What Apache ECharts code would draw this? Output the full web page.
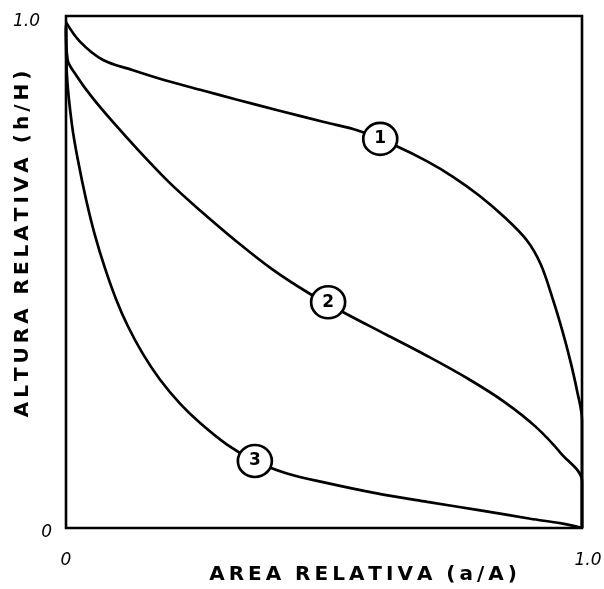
<!DOCTYPE html>
<html>
<head>
<meta charset="utf-8">
<script src="https://cdn.jsdelivr.net/npm/echarts@6/dist/echarts.min.js"></script>
<style>
  html, body { margin: 0; padding: 0; background: #fff; }
  #chart { width: 604px; height: 589px; }
</style>
</head>
<body>
<div id="chart"></div>
<script>
// hypsometric curves, values (a/A, h/H)
var curve1 = [[0, 0.988], [0.027, 0.95], [0.072, 0.914], [0.13, 0.894], [0.19, 0.875],
  [0.26, 0.856], [0.33, 0.837], [0.41, 0.816], [0.5, 0.793], [0.57, 0.775], [0.64, 0.746],
  [0.7, 0.716], [0.75, 0.686], [0.8, 0.65], [0.85, 0.607], [0.893, 0.562], [0.92, 0.515],
  [0.944, 0.445], [0.962, 0.385], [0.977, 0.328], [0.99, 0.27], [1.0, 0.21], [1.0, 0.0]];
var curve2 = [[0, 0.977], [0.003, 0.915], [0.02, 0.884], [0.05, 0.842], [0.09, 0.794],
  [0.14, 0.738], [0.2, 0.675], [0.26, 0.62], [0.33, 0.56], [0.4, 0.505], [0.47, 0.459],
  [0.54, 0.42], [0.62, 0.378], [0.7, 0.336], [0.78, 0.291], [0.85, 0.246], [0.91, 0.198],
  [0.96, 0.145], [1.0, 0.091], [1.0, 0.0]];
var curve3 = [[0, 0.982], [0.002, 0.881], [0.0116, 0.787], [0.023, 0.719], [0.039, 0.641],
  [0.056, 0.572], [0.076, 0.506], [0.097, 0.447], [0.12, 0.394], [0.149, 0.34],
  [0.182, 0.29], [0.221, 0.243], [0.26, 0.205], [0.312, 0.163], [0.366, 0.131],
  [0.43, 0.106], [0.5, 0.089], [0.6, 0.068], [0.7, 0.051], [0.8, 0.035], [0.9, 0.018],
  [0.96, 0.009], [1.0, 0.0]];
var curveLabels = [[0.609, 0.76, '1'], [0.508, 0.441, '2'], [0.366, 0.131, '3']];
var xTicks = ['0', '1.0'];
var yTicks = ['0', '1.0'];

var chart = echarts.init(document.getElementById('chart'));

var sp = '\u2009';
function spaced(s) { return s.split('').join(sp); }

function lineSeries(data) {
  return {
    type: 'line', data: data, smooth: 0.35, showSymbol: false, symbol: 'none',
    lineStyle: { color: '#000', width: 2.7 }, z: 2, silent: true
  };
}

var numFont = { fontFamily: 'DejaVu Sans', fontStyle: 'italic', fontSize: 17, color: '#000' };

chart.setOption({
  animation: false,
  backgroundColor: '#fff',
  grid: {
    left: 66, right: 22, top: 16, bottom: 61, outerBoundsMode: 'none',
    show: true, borderColor: '#000', borderWidth: 2.6
  },
  xAxis: {
    type: 'value', min: 0, max: 1, interval: 1,
    axisLine: { show: false }, axisTick: { show: false }, splitLine: { show: false },
    axisLabel: {
      margin: 24,
      formatter: function(v) { return v === 0 ? '{z|' + xTicks[0] + '}' : '{o|' + xTicks[1] + '}'; },
      rich: {
        z: Object.assign({}, numFont),
        o: Object.assign({ padding: [0, 0, 0, 12] }, numFont)
      }
    },
    name: spaced('AREA') + '  ' + spaced('RELATIVA') + '  ' + spaced('(a/A)'),
    nameLocation: 'middle', nameGap: 37, nameMoveOverlap: false,
    nameTextStyle: { fontFamily: 'DejaVu Sans', fontWeight: 'bold', fontSize: 20, color: '#000', padding: [0, 0, 0, 78] }
  },
  yAxis: {
    type: 'value', min: 0, max: 1, interval: 1,
    axisLine: { show: false }, axisTick: { show: false }, splitLine: { show: false },
    axisLabel: {
      margin: 12,
      formatter: function(v) { return v === 0 ? '{z|' + yTicks[0] + '}' : '{o|' + yTicks[1] + '}'; },
      rich: {
        z: Object.assign({ padding: [10, 2, 0, 0] }, numFont),
        o: Object.assign({ padding: [12, 14, 0, 0] }, numFont)
      }
    },
    name: spaced('ALTURA') + '  ' + spaced('RELATIVA') + '  ' + spaced('(h/H)'),
    nameLocation: 'middle', nameGap: 33, nameMoveOverlap: false,
    nameTextStyle: { fontFamily: 'DejaVu Sans', fontWeight: 'bold', fontSize: 20, color: '#000', padding: [0, 0, 0, 56] }
  },
  series: [
    lineSeries(curve1),
    lineSeries(curve2),
    lineSeries(curve3),
    {
      type: 'scatter', data: curveLabels, symbol: 'circle', symbolSize: [34, 32], z: 5, silent: true,
      itemStyle: { color: '#fff', borderColor: '#000', borderWidth: 2.6, opacity: 1 },
      label: {
        show: true, position: 'inside', color: '#000', fontFamily: 'DejaVu Sans',
        fontWeight: 'bold', fontSize: 17,
        formatter: function(p) { return p.value[2]; }
      }
    }
  ]
});
</script>
</body>
</html>
